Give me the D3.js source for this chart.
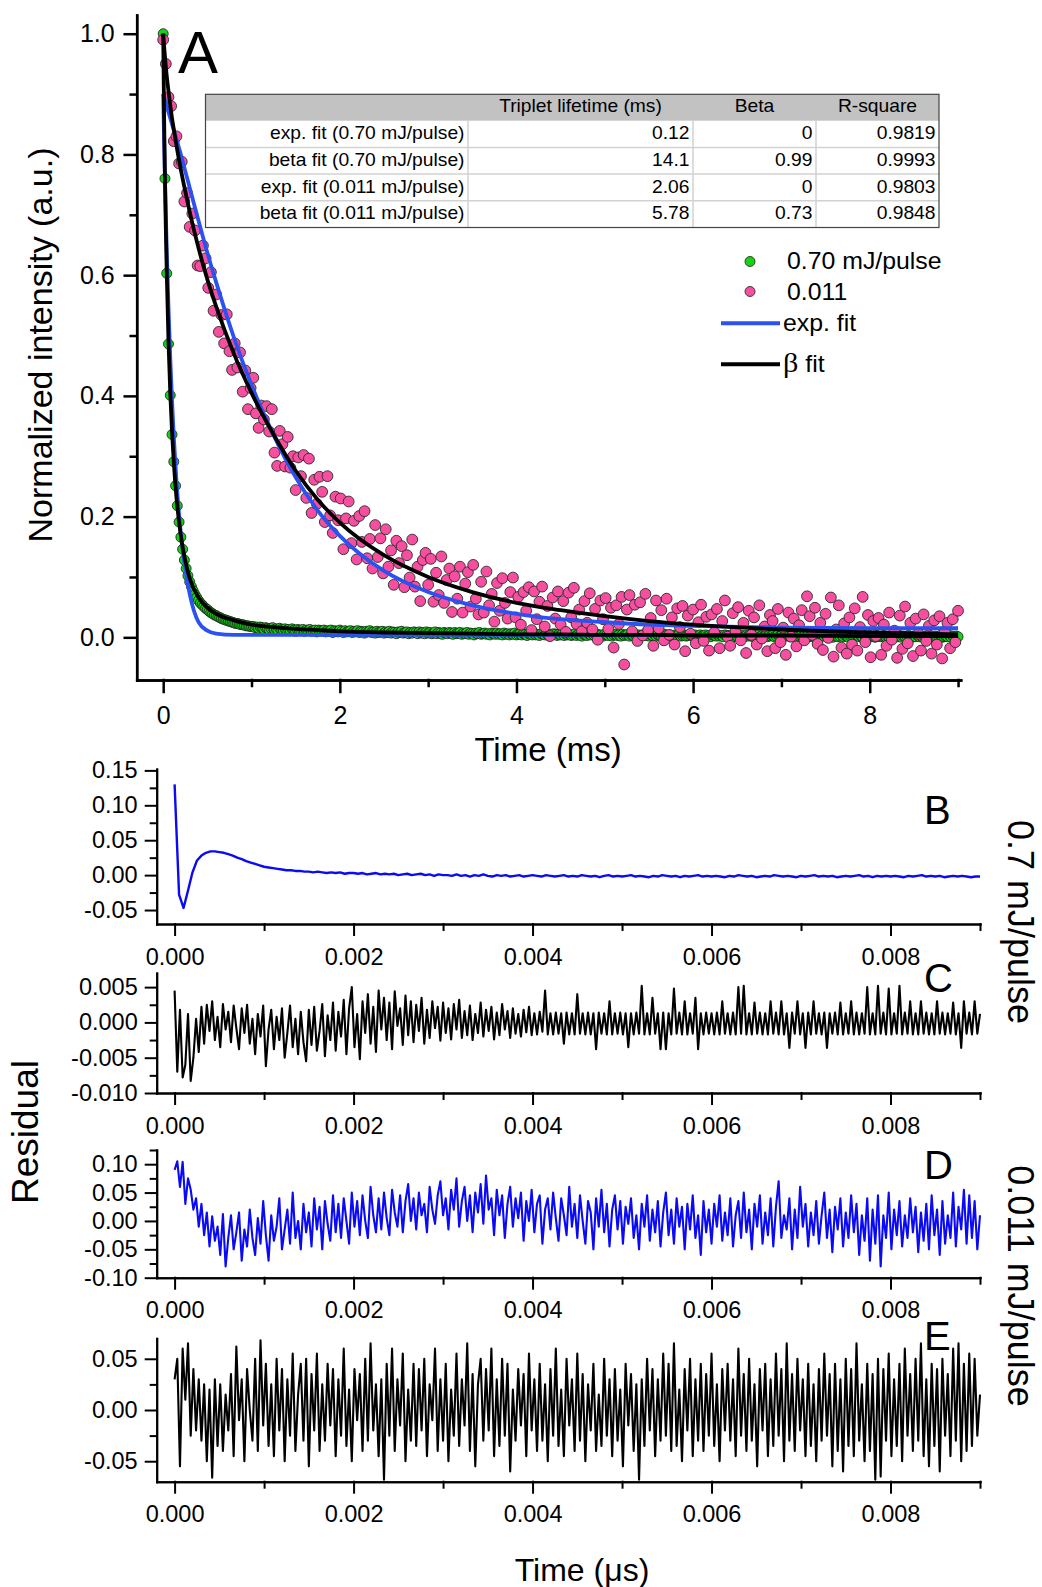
<!DOCTYPE html>
<html>
<head>
<meta charset="utf-8">
<script src="https://cdn.jsdelivr.net/npm/d3@7"></script>
<style>
body{margin:0;background:#fff}
</style>
</head>
<body>
<svg id="chart" width="1042" height="1587"></svg>
<script>
// ---------- panel A data ----------
const msTicks = [0, 2, 4, 6, 8];
const msMinor = [1, 3, 5, 7, 9];
const intTicks = [0, 0.2, 0.4, 0.6, 0.8, 1.0];
const intMinor = [0.1, 0.3, 0.5, 0.7, 0.9];

// 0.70 mJ/pulse, one point every 0.02 ms
const greenStep = 0.02;
const greenVals = [
1.000,0.760,0.603,0.486,0.401,0.336,0.291,0.251,0.218,0.191,
0.166,0.146,0.128,0.114,0.102,0.092,0.084,0.077,0.071,0.066,
0.061,0.057,0.054,0.051,0.048,0.046,0.043,0.041,0.039,0.037,
0.036,0.034,0.033,0.031,0.030,0.029,0.028,0.027,0.026,0.025,
0.024,0.023,0.023,0.022,0.021,0.021,0.020,0.019,0.019,0.018,
0.018,
0.018,0.016,0.017,0.015,0.017,0.016,0.014,0.016,0.015,0.013,0.015,0.016,0.013,0.014,0.012,0.015,0.013,0.012,0.014,
0.012,0.013,0.011,0.014,0.012,0.010,0.013,0.012,0.011,0.013,0.010,0.012,0.011,0.013,0.010,0.011,0.012,0.009,0.012,0.011,
0.010,0.012,0.009,0.011,0.010,0.012,0.008,0.011,0.010,0.009,0.012,0.010,0.008,0.011,0.009,0.010,0.011,0.008,0.010,0.009,
0.011,0.008,0.010,0.009,0.007,0.010,0.009,0.011,0.008,0.009,0.007,0.010,0.008,0.009,0.010,0.007,0.009,0.008,0.010,0.007,
0.009,0.008,0.006,0.009,0.008,0.010,0.007,0.008,0.009,0.006,0.008,0.007,0.009,0.008,0.006,0.009,0.007,0.008,0.006,0.009,
0.007,0.008,0.006,0.007,0.009,0.006,0.008,0.007,0.005,0.008,0.007,0.006,0.008,0.007,0.005,0.008,0.006,0.007,0.008,0.005,
0.007,0.006,0.008,0.005,0.007,0.006,0.004,0.007,0.006,0.008,0.005,0.006,0.007,0.005,0.006,0.004,0.007,0.006,0.005,0.007,
0.005,0.006,0.004,0.007,0.005,0.006,0.004,0.006,0.005,0.007,0.004,0.005,0.006,0.004,0.006,0.005,0.003,0.006,0.005,0.004,
0.006,0.004,0.005,0.003,0.006,0.005,0.004,0.006,0.003,0.005,0.004,0.006,0.005,0.003,0.005,0.004,0.006,0.003,0.005,0.004,
0.005,0.003,0.004,0.006,0.003,0.005,0.004,0.002,0.005,0.004,0.003,0.005,0.004,0.006,0.003,0.004,0.005,0.003,0.004,0.002,
0.005,0.004,0.003,0.005,0.002,0.004,0.005,0.003,0.004,0.002,0.005,0.003,0.004,0.005,0.002,0.004,0.003,0.005,0.003,0.004,
0.002,0.004,0.003,0.005,0.003,0.002,0.004,0.003,0.005,0.002,0.004,0.003,0.002,0.004,0.005,0.003,0.002,0.004,0.003,0.001,
0.004,0.003,0.005,0.002,0.003,0.004,0.002,0.003,0.005,0.003,0.002,0.004,0.001,0.003,0.004,0.002,0.003,0.004,0.002,0.003,
0.001,0.004,0.003,0.002,0.004,0.002,0.003,0.001,0.004,0.003,0.002,0.003,0.004,0.001,0.003,0.002,0.004,0.002,0.003,0.001,
0.003,0.002,0.004,0.002,0.001,0.003,0.002,0.004,0.001,0.003,0.002,0.003,0.001,0.004,0.002,0.003,0.001,0.002,0.004,0.002,
0.003,0.001,0.002,0.004,0.002,0.001,0.003,0.002,0.004,0.001,0.002,0.003,0.001,0.003,0.002,0.004,0.001,0.002,0.003,0.001,
0.003,0.002,0.001,0.003,0.002,0.004,0.001,0.002,0.003,0.000,0.002,0.003,0.001,0.002,0.004,0.001,0.003,0.002,0.000,0.002,
0.003,0.001,0.002,0.003,0.001,0.002,0.000,0.003,0.002,0.001,0.003,0.001,0.002,0.000,0.003,0.002,0.001,0.002,0.003,0.001,
0.002,0.000,0.002,0.003,0.001,0.002,0.001,0.003,0.000,0.002,0.001,0.002,0.003,0.001,0.000,0.002,0.001,0.003,0.001,0.002,
0.000,0.002,0.001,0.003,0.001,0.002,0.000,0.002,0.001,0.002,0.003,0.000,0.001,0.002,0.001,0.003,0.000,0.002,0.001,0.002,0.001
];

// 0.011 mJ/pulse, one point every 0.03 ms
const pinkStep = 0.03;
const pinkVals = [
0.990,0.950,0.895,0.880,0.822,0.830,0.785,0.788,0.722,0.736,
0.680,0.702,0.674,0.616,0.615,0.649,0.628,0.579,0.605,0.541,
0.568,0.506,0.534,0.487,0.535,0.474,0.443,0.487,0.447,0.472,
0.407,0.442,0.378,0.413,0.430,0.371,0.347,0.384,0.361,0.383,
0.341,0.378,0.306,0.284,0.342,0.320,0.283,0.332,0.281,0.300,
0.244,0.298,0.267,0.302,0.231,0.296,0.206,0.261,0.221,0.266,
0.241,0.191,0.267,0.202,0.173,0.233,0.194,0.230,0.146,0.197,
0.225,0.156,0.193,0.129,0.201,0.158,0.209,0.131,0.163,0.114,
0.186,0.133,0.164,0.106,0.179,0.117,0.144,0.087,0.160,0.123,
0.151,0.083,0.136,0.099,0.162,0.084,0.117,0.060,0.128,0.140,
0.087,0.130,0.059,0.107,0.070,0.134,0.057,0.095,0.114,0.042,
0.101,0.064,0.117,0.041,0.089,0.108,0.051,0.120,0.064,0.038,
0.092,0.041,0.109,0.053,0.072,0.026,0.090,0.044,0.098,0.057,
0.031,0.075,0.099,0.033,0.067,0.021,0.075,0.044,0.083,0.012,
0.076,0.030,0.059,0.084,0.018,0.052,0.002,0.066,0.031,0.076,
0.021,0.060,0.009,0.074,0.033,0.082,0.022,0.046,0.010,0.060,
0.024,0.073,0.013,0.047,-0.004,0.061,0.030,0.065,0.014,0.049,
-0.017,0.053,0.022,0.067,-0.045,0.046,0.070,0.010,0.054,-0.006,
0.058,0.003,0.072,0.012,0.032,-0.014,0.061,0.015,0.045,-0.005,
0.064,0.004,0.033,-0.012,0.048,0.017,0.052,-0.023,0.036,0.006,
0.046,-0.010,0.025,0.054,-0.006,0.034,-0.022,0.038,0.008,0.047,
-0.018,0.027,0.061,0.001,-0.014,0.040,0.010,0.050,-0.005,0.024,
-0.026,0.044,0.004,0.033,-0.012,0.053,-0.002,0.018,-0.023,0.037,
0.027,-0.018,0.047,-0.008,0.016,-0.029,0.041,0.001,0.031,-0.015,
0.020,0.045,-0.005,0.068,0.035,0.004,0.049,-0.011,0.024,-0.021,
0.039,-0.001,0.066,-0.032,0.013,0.053,-0.017,0.023,-0.027,0.033,
-0.012,0.048,-0.022,0.017,0.067,-0.008,0.037,-0.033,0.027,0.002,
0.032,-0.029,0.021,-0.014,0.041,-0.004,0.011,-0.034,0.036,-0.019,
0.051,-0.010,0.024,-0.031,0.031,0.006,-0.022,0.038,-0.006,0.019,
-0.027,0.028,-0.012,0.035,-0.035,0.010,0.024,-0.018,0.030,-0.008,0.044
];

// fit curves
const fitTimes = [0,0.01,0.02,0.03,0.04,0.06,0.08,0.1,0.12,0.15,0.2,0.25,0.3,0.4,0.5,0.6,0.8,1.0,1.25,1.5,1.75,2,2.5,3,3.5,4,4.5,5,5.5,6,7,8,9];
const expFit070 = [0.90,0.826,0.76,0.70,0.645,0.546,0.463,0.392,0.332,0.259,0.172,0.114,0.072,0.025,0.011,0.006,0.004,0.004,0.004,0.004,0.004,0.004,0.004,0.004,0.004,0.004,0.004,0.004,0.004,0.004,0.004,0.004,0.004];
const betaFit070 = [1.0,0.865,0.76,0.675,0.605,0.49,0.405,0.34,0.29,0.232,0.168,0.127,0.098,0.066,0.049,0.039,0.028,0.021,0.017,0.014,0.012,0.010,0.008,0.007,0.006,0.005,0.005,0.004,0.004,0.003,0.003,0.002,0.002];
const expFit011 = [0.90,0.895,0.89,0.885,0.88,0.87,0.86,0.85,0.84,0.825,0.80,0.772,0.745,0.69,0.637,0.588,0.497,0.418,0.335,0.265,0.210,0.168,0.110,0.075,0.053,0.039,0.030,0.025,0.021,0.019,0.016,0.015,0.015];
const betaFit011 = [1.0,0.98,0.962,0.945,0.93,0.905,0.882,0.86,0.842,0.815,0.775,0.739,0.705,0.645,0.593,0.548,0.47,0.405,0.336,0.276,0.228,0.190,0.136,0.100,0.075,0.057,0.045,0.035,0.027,0.021,0.013,0.008,0.005];

// table
const tableHead = ["", "Triplet lifetime (ms)", "Beta", "R-square"];
const fitNames = ["exp. fit (0.70 mJ/pulse)", "beta fit (0.70 mJ/pulse)", "exp. fit (0.011 mJ/pulse)", "beta fit (0.011 mJ/pulse)"];
const lifetimes = ["0.12", "14.1", "2.06", "5.78"];
const betas = ["0", "0.99", "0", "0.73"];
const rSquares = ["0.9819", "0.9993", "0.9803", "0.9848"];

const legendNames = ["0.70 mJ/pulse", "0.011", "exp. fit", "\u03b2 fit"];

// ---------- residual panels data ----------
const resTimeTicks = [0, 0.002, 0.004, 0.006, 0.008];
const resTimeMinor = [0.001, 0.003, 0.005, 0.007, 0.009];
const resStepB = 0.00005;
const resStep = 0.00003;

const resB = [
0.130,-0.028,-0.047,-0.022,0.004,0.021,0.028,0.032,0.034,0.034,0.033,
0.032,0.030,0.028,0.025,0.023,0.020,0.018,0.016,0.014,0.012,0.011,0.010,0.009,0.008,0.007,0.007,0.006,0.006,0.005,0.005,
0.004,0.005,0.004,0.003,0.004,0.003,0.004,0.002,0.003,0.003,
0.002,0.003,0.001,0.002,0.003,0.001,0.002,0.001,0.002,0.000,0.001,0.002,0.000,0.001,0.002,0.000,0.001,-0.001,0.001,0.000,
0.000,-0.001,0.001,-0.001,0.000,-0.002,0.000,-0.001,0.001,-0.001,-0.002,0.000,-0.001,0.000,-0.002,-0.001,0.000,-0.002,-0.001,0.000,
-0.001,-0.002,0.000,-0.001,-0.002,-0.001,0.000,-0.002,-0.001,-0.002,0.000,-0.001,-0.002,-0.001,-0.003,-0.001,0.000,-0.002,-0.001,-0.002,
-0.001,0.000,-0.002,-0.001,-0.002,-0.003,-0.001,-0.002,0.000,-0.001,-0.002,-0.001,-0.003,-0.001,-0.002,-0.001,0.000,-0.002,-0.001,-0.002,
-0.001,-0.002,-0.003,-0.001,-0.002,0.000,-0.001,-0.002,-0.001,-0.003,-0.002,-0.001,-0.002,0.000,-0.001,-0.002,-0.001,-0.002,-0.003,-0.001,
-0.002,-0.001,0.000,-0.002,-0.001,-0.002,-0.001,-0.003,-0.002,-0.001,-0.002,-0.001,0.000,-0.002,-0.001,-0.003,-0.001,-0.002,-0.001,-0.002,
-0.001,-0.002,-0.003,-0.001,-0.002,-0.001,0.000,-0.002,-0.001,-0.002,-0.001,-0.003,-0.002,-0.001,-0.002,-0.001,-0.002,-0.003,-0.002,-0.002
];

const resC = [
0.0045,-0.0070,0.0018,-0.0078,-0.0060,0.0012,-0.0083,-0.0050,0.0005,-0.0042,
0.0022,-0.0030,0.0025,-0.0012,0.0030,-0.0025,0.0008,-0.0035,0.0026,-0.0010,
0.0015,-0.0028,0.0024,-0.0008,-0.0038,0.0020,-0.0015,0.0025,-0.0030,0.0005,
-0.0045,0.0012,-0.0020,0.0024,-0.0062,-0.0010,0.0018,-0.0038,0.0008,-0.0025,
0.0020,-0.0050,-0.0015,0.0024,-0.0035,0.0005,-0.0045,0.0015,-0.0028,-0.0055,
0.0018,-0.0032,0.0022,-0.0040,-0.0012,0.0026,-0.0048,0.0010,-0.0025,0.0028,
-0.0040,0.0015,-0.0020,0.0032,-0.0045,0.0020,0.0050,-0.0035,0.0012,-0.0052,
0.0030,-0.0015,0.0040,-0.0030,0.0022,-0.0042,0.0045,-0.0010,0.0035,-0.0025,
0.0028,-0.0038,0.0044,-0.0005,0.0020,-0.0032,0.0038,-0.0018,0.0030,-0.0028,
0.0025,-0.0012,0.0035,-0.0030,0.0018,-0.0022,0.0030,-0.0008,0.0022,-0.0026,
0.0028,-0.0015,0.0020,-0.0024,0.0026,-0.0010,0.0032,-0.0022,0.0016,-0.0018,
0.0024,-0.0025,0.0012,-0.0015,0.0028,-0.0020,0.0018,-0.0012,0.0022,-0.0024,
0.0014,-0.0018,0.0026,-0.0010,0.0016,-0.0022,0.0020,-0.0016,0.0012,-0.0020,
0.0018,-0.0014,0.0022,-0.0018,0.0013,-0.0017,0.0015,-0.0013,0.0045,-0.0017,
0.0013,-0.0017,0.0014,-0.0016,0.0013,-0.0030,0.0014,-0.0017,0.0013,-0.0017,
0.0040,-0.0016,0.0013,-0.0017,0.0014,-0.0017,0.0013,-0.0038,0.0014,-0.0016,
0.0013,-0.0017,0.0030,-0.0017,0.0013,-0.0016,0.0014,-0.0017,0.0013,-0.0035,
0.0013,-0.0017,0.0014,-0.0016,0.0052,-0.0017,0.0013,-0.0017,0.0035,-0.0016,
0.0013,-0.0038,0.0014,-0.0038,0.0013,-0.0017,0.0048,-0.0016,0.0014,-0.0017,
0.0030,-0.0017,0.0013,-0.0016,0.0035,-0.0038,0.0013,-0.0017,0.0014,-0.0016,
0.0013,-0.0017,0.0014,-0.0017,0.0030,-0.0016,0.0013,-0.0017,0.0014,-0.0017,
0.0050,-0.0016,0.0052,-0.0017,0.0013,-0.0017,0.0028,-0.0016,0.0014,-0.0017,
0.0013,-0.0017,0.0030,-0.0016,0.0014,-0.0017,0.0030,-0.0017,0.0013,-0.0036,
0.0014,-0.0016,0.0030,-0.0017,0.0013,-0.0036,0.0014,-0.0017,0.0030,-0.0016,
0.0013,-0.0017,0.0014,-0.0036,0.0013,-0.0016,0.0014,-0.0017,0.0028,-0.0017,
0.0013,-0.0016,0.0030,-0.0017,0.0014,-0.0017,0.0013,-0.0016,0.0050,-0.0017,
0.0013,-0.0017,0.0052,-0.0016,0.0014,-0.0017,0.0048,-0.0017,0.0013,-0.0016,
0.0052,-0.0017,0.0014,-0.0016,0.0030,-0.0017,0.0013,-0.0017,0.0030,-0.0016,
0.0014,-0.0017,0.0013,-0.0017,0.0030,-0.0016,0.0014,-0.0017,0.0013,-0.0016,
0.0028,-0.0017,0.0013,-0.0036,0.0030,-0.0016,0.0014,-0.0017,0.0030,-0.0016,0.0012
];

const resD = [
0.090,0.105,0.060,0.104,0.030,0.075,0.055,0.020,0.040,-0.010,
0.030,-0.025,0.015,-0.045,0.008,-0.035,-0.010,-0.060,0.012,-0.080,
-0.030,0.010,-0.050,-0.020,0.015,-0.070,-0.015,-0.045,0.020,-0.030,
-0.060,0.005,-0.040,0.035,-0.025,-0.070,0.010,-0.035,-0.010,0.040,
-0.050,-0.015,0.020,-0.040,0.050,-0.030,0.000,-0.050,0.030,-0.020,
0.015,-0.045,0.040,-0.015,0.025,-0.050,0.035,-0.005,-0.035,0.045,
-0.020,0.030,-0.030,0.040,0.000,-0.040,0.050,-0.010,0.035,-0.025,
0.045,0.000,-0.030,0.060,0.010,-0.020,0.040,-0.015,0.050,0.005,
-0.025,0.055,0.015,-0.010,0.045,-0.020,0.035,0.065,0.000,0.040,
-0.015,0.050,0.010,0.030,-0.020,0.060,0.020,-0.005,0.045,0.070,
0.010,0.040,-0.015,0.055,0.020,0.075,-0.010,0.035,0.060,0.000,
0.045,-0.020,0.050,0.015,0.065,-0.005,0.080,0.020,0.040,-0.025,
0.055,0.010,0.045,-0.030,0.030,0.060,-0.010,0.040,0.005,0.050,
-0.035,0.035,0.000,0.055,-0.020,0.030,0.045,-0.040,0.020,0.040,
-0.015,0.050,0.005,-0.035,0.040,0.010,-0.025,0.060,-0.010,0.030,
-0.030,0.045,0.000,-0.040,0.035,0.015,-0.050,0.040,-0.010,0.055,
-0.020,0.030,-0.045,0.020,0.045,-0.015,0.035,-0.040,0.025,-0.005,
0.040,-0.030,0.010,-0.050,0.030,-0.010,0.045,-0.035,0.020,-0.020,
0.035,-0.045,0.015,0.050,-0.025,0.020,-0.040,0.040,-0.010,0.025,
-0.050,0.030,-0.015,0.045,-0.030,0.010,-0.060,0.035,-0.020,0.020,
-0.040,0.030,-0.010,0.045,-0.035,0.015,-0.025,0.040,-0.045,0.010,
0.035,-0.030,0.050,-0.020,0.020,-0.050,0.030,-0.010,0.045,-0.040,
0.015,-0.025,0.040,-0.045,0.025,0.070,-0.030,0.010,-0.015,0.040,
-0.050,0.020,-0.030,0.060,-0.010,0.030,-0.045,0.015,-0.025,0.035,
-0.040,0.010,0.050,-0.030,0.020,-0.055,0.025,-0.015,0.040,-0.045,
0.015,-0.030,0.045,-0.020,0.030,-0.060,0.010,-0.035,0.040,-0.070,
0.020,-0.040,0.045,-0.080,0.010,-0.030,0.050,-0.050,0.020,-0.025,
0.035,-0.045,0.010,-0.030,0.040,-0.020,0.025,-0.055,0.015,-0.035,
0.030,-0.050,0.045,-0.025,0.020,-0.060,0.035,-0.040,0.010,-0.030,
0.050,-0.045,0.025,-0.015,0.055,-0.040,0.045,-0.030,0.035,-0.050,0.010
];

const resE = [
0.030,0.050,-0.055,0.060,0.010,0.065,-0.025,0.040,-0.020,0.030,
-0.030,0.025,-0.050,0.020,-0.066,0.030,-0.035,0.025,-0.040,0.015,
-0.020,0.035,-0.045,0.062,-0.010,0.030,-0.050,0.040,0.000,-0.030,
0.050,-0.040,0.068,-0.015,0.045,-0.035,0.025,-0.045,0.050,-0.020,
0.040,-0.050,0.030,-0.025,0.055,-0.040,0.015,0.045,-0.030,0.050,
-0.055,0.035,-0.020,0.055,-0.040,0.025,-0.030,0.045,-0.015,0.040,
-0.045,0.030,-0.025,0.060,-0.035,0.020,-0.050,0.040,-0.010,0.035,
-0.040,0.050,-0.030,0.065,-0.020,0.025,-0.045,0.030,-0.068,0.045,
-0.025,0.060,-0.040,0.030,-0.015,0.055,-0.050,0.020,-0.030,0.045,
-0.035,0.040,-0.020,0.050,-0.045,0.025,-0.010,0.060,-0.040,0.030,
-0.030,0.045,-0.050,0.020,-0.025,0.055,-0.035,0.030,-0.015,0.065,
-0.040,0.035,-0.055,0.025,0.050,-0.030,0.040,-0.020,0.060,-0.045,
0.030,-0.035,0.050,-0.025,0.045,-0.060,0.020,-0.030,0.040,-0.015,
0.035,-0.045,0.055,-0.020,0.030,-0.040,0.045,-0.030,0.025,-0.050,
0.040,-0.025,0.060,-0.035,0.020,-0.045,0.050,-0.015,0.030,-0.040,
0.055,-0.030,0.035,-0.050,0.025,-0.020,0.045,-0.040,0.015,-0.035,
0.050,-0.025,0.030,-0.045,0.040,-0.030,0.020,-0.055,0.045,-0.015,
0.035,-0.040,0.025,-0.068,0.030,-0.035,0.050,-0.020,0.040,-0.045,
0.030,-0.030,0.055,-0.025,0.045,-0.040,0.065,-0.035,0.020,-0.050,
0.040,-0.020,0.050,-0.045,0.030,-0.030,0.045,-0.040,0.035,-0.025,
0.055,-0.035,0.025,-0.050,0.040,-0.020,0.045,-0.030,0.030,-0.045,
0.060,-0.025,0.035,-0.040,0.050,-0.030,0.025,-0.055,0.040,-0.020,
0.045,-0.045,0.030,-0.035,0.055,-0.025,0.040,-0.050,0.065,-0.030,
0.035,-0.040,0.050,-0.020,0.030,-0.045,0.045,-0.035,0.025,-0.050,
0.040,-0.030,0.055,-0.025,0.035,-0.055,0.045,-0.040,0.030,-0.060,
0.050,-0.035,0.040,-0.045,0.065,-0.030,0.025,-0.050,0.045,-0.040,
0.035,-0.068,0.050,-0.065,0.040,-0.030,0.055,-0.045,0.030,-0.035,
0.045,-0.050,0.060,-0.025,0.035,-0.040,0.050,-0.030,0.065,-0.045,
0.030,-0.055,0.045,-0.035,0.040,-0.060,0.050,-0.025,0.035,-0.045,
0.060,-0.030,0.065,-0.050,0.045,-0.040,0.055,-0.035,0.050,-0.025,0.015
];

// ---------- drawing ----------
const FONT = '"Liberation Sans", Arial, Helvetica, sans-serif';
const svg = d3.select("#chart");
svg.append("rect").attr("width", 1042).attr("height", 1587).attr("fill", "#fff");

const hyphen = f => d => f(d).replace("\u2212", "-");

const drawAxis = (orient, scale, major, minor, fmt, pos, o) => {
    const make = orient === "left" ? d3.axisLeft : d3.axisBottom;
    const tr = orient === "left" ? "translate(" + pos + ",0)" : "translate(0," + pos + ")";
    let gMin = svg.append("g").attr("transform", tr)
        .call(make(scale).tickValues(minor).tickSize(o.minorLen).tickSizeOuter(0).tickFormat(""));
    let gMaj = svg.append("g").attr("transform", tr)
        .call(make(scale).tickValues(major).tickSize(o.majorLen).tickSizeOuter(0).tickPadding(o.pad).tickFormat(fmt));
    for (let g of [gMin, gMaj]) {
        g.selectAll("path,line").attr("stroke", "#000").attr("stroke-width", o.lw).attr("stroke-linecap", "square");
        g.attr("font-size", o.fs).attr("font-family", FONT);
        g.selectAll("text").attr("fill", "#000");
    }
}

const label = (x, y, str, size, anchor, extra) => {
    return svg.append("text")
        .attr("transform", "translate(" + x + "," + y + ")" + (extra || ""))
        .attr("font-family", FONT)
        .attr("font-size", size)
        .attr("text-anchor", anchor || "start")
        .attr("fill", "#000")
        .text(str);
}

// panel A
const xA = d3.scaleLinear().domain([-0.3, 9.03]).range([136.7, 960.7]);
const yA = d3.scaleLinear().domain([-0.0707, 1.031]).range([680, 15]);

drawAxis("bottom", xA, msTicks, msMinor, d3.format("d"), 680, {majorLen: 12, minorLen: 6, pad: 14, lw: 2.5, fs: 25});
drawAxis("left", yA, intTicks, intMinor, d3.format(".1f"), 136.7, {majorLen: 12, minorLen: 6, pad: 10, lw: 2.5, fs: 25});

let greenData = greenVals.map((v, i) => ({t: i * greenStep, v: v}));
let pinkData = pinkVals.map((v, i) => ({t: i * pinkStep, v: v}));

svg.append("g").selectAll("circle").data(greenData).enter().append("circle")
    .attr("cx", d => xA(d.t)).attr("cy", d => yA(d.v)).attr("r", 5)
    .attr("fill", "#13d313").attr("stroke", "#1b1b1b").attr("stroke-width", 0.8);

svg.append("g").selectAll("circle").data(pinkData).enter().append("circle")
    .attr("cx", d => xA(d.t)).attr("cy", d => yA(d.v)).attr("r", 5.4)
    .attr("fill", "#f74ea0").attr("stroke", "#2a2a2a").attr("stroke-width", 0.9);

const fitLine = d3.line().x(d => xA(d.t)).y(d => yA(d.v)).curve(d3.curveMonotoneX);
const fitSeries = (vals) => vals.map((v, i) => ({t: fitTimes[i], v: v}));

for (let s of [expFit011, expFit070]) {
    svg.append("path").datum(fitSeries(s)).attr("d", fitLine)
        .attr("fill", "none").attr("stroke", "#2b52f0").attr("stroke-width", 3.8);
}
for (let s of [betaFit011, betaFit070]) {
    svg.append("path").datum(fitSeries(s)).attr("d", fitLine)
        .attr("fill", "none").attr("stroke", "#000").attr("stroke-width", 3.8);
}

label(178, 73, "A", 60);
label(548, 761, "Time (ms)", 33, "middle");
label(52, 345, "Normalized intensity (a.u.)", 34, "middle", " rotate(-90)");

// table
const colEdges = [205.5, 468, 693, 816, 939];
const tTop = 94.3, headH = 26.4, rowH = 26.7;
const tBottom = tTop + headH + rowH * fitNames.length;
svg.append("rect").attr("x", colEdges[0]).attr("y", tTop).attr("width", colEdges[4] - colEdges[0]).attr("height", headH)
    .attr("fill", "#c2c2c2");
for (let r = 1; r < fitNames.length; r++) {
    let yy = tTop + headH + r * rowH;
    svg.append("line").attr("x1", colEdges[0]).attr("x2", colEdges[4]).attr("y1", yy).attr("y2", yy)
        .attr("stroke", "#d2d2d2").attr("stroke-width", 1.5);
}
for (let c = 1; c < 4; c++) {
    svg.append("line").attr("x1", colEdges[c]).attr("x2", colEdges[c]).attr("y1", tTop + headH).attr("y2", tBottom)
        .attr("stroke", "#d2d2d2").attr("stroke-width", 1.5);
}
svg.append("rect").attr("x", colEdges[0]).attr("y", tTop).attr("width", colEdges[4] - colEdges[0]).attr("height", tBottom - tTop)
    .attr("fill", "none").attr("stroke", "#444").attr("stroke-width", 1.2);

for (let c = 1; c < 4; c++) {
    label((colEdges[c] + colEdges[c + 1]) / 2, tTop + 17.5, tableHead[c], 17.5, "middle", " scale(1.1,1)");
}
const tableCols = [fitNames, lifetimes, betas, rSquares];
for (let r = 0; r < fitNames.length; r++) {
    let base = tTop + headH + r * rowH + 18.5;
    for (let c = 0; c < 4; c++) {
        label(colEdges[c + 1] - 3.5, base, tableCols[c][r], 17.5, "end", " scale(1.1,1)");
    }
}

// legend
svg.append("circle").attr("cx", 750).attr("cy", 261.5).attr("r", 5)
    .attr("fill", "#13d313").attr("stroke", "#1b1b1b").attr("stroke-width", 0.8);
svg.append("circle").attr("cx", 750).attr("cy", 291.5).attr("r", 5)
    .attr("fill", "#f74ea0").attr("stroke", "#2a2a2a").attr("stroke-width", 0.9);
svg.append("line").attr("x1", 721).attr("x2", 780).attr("y1", 323.3).attr("y2", 323.3)
    .attr("stroke", "#2b52f0").attr("stroke-width", 4);
svg.append("line").attr("x1", 721).attr("x2", 780).attr("y1", 364.3).attr("y2", 364.3)
    .attr("stroke", "#000").attr("stroke-width", 4);
label(787, 268.5, legendNames[0], 23, "start", " scale(1.08,1)");
label(787, 299.5, legendNames[1], 23, "start", " scale(1.08,1)");
label(783, 331, legendNames[2], 23, "start", " scale(1.08,1)");
let bt = label(783, 371.5, "", 23, "start", " scale(1.08,1)");
bt.append("tspan").attr("font-family", '"Liberation Serif", serif').attr("font-size", 28).text(legendNames[3].charAt(0));
bt.append("tspan").text(legendNames[3].slice(1));

// residual panels
const xR = d3.scaleLinear().domain([-0.0002, 0.009]).range([156.7, 980]);
const panels = [
    {vals: resB, step: resStepB, dom: [-0.07, 0.152], rng: [924, 769], ticks: [-0.05, 0, 0.05, 0.1, 0.15], minor: [-0.025, 0.025, 0.075, 0.125], fmt: ".2f", color: "#0a0af5", lw: 2.4, tag: "B", tagY: 823.5},
    {vals: resC, step: resStep, dom: [-0.010, 0.007], rng: [1093, 973], ticks: [-0.01, -0.005, 0, 0.005], minor: [-0.0075, -0.0025, 0.0025], fmt: ".3f", color: "#000", lw: 2.1, tag: "C", tagY: 992},
    {vals: resD, step: resStep, dom: [-0.10, 0.125], rng: [1277.7, 1150], ticks: [-0.1, -0.05, 0, 0.05, 0.1], minor: [-0.075, -0.025, 0.025, 0.075, 0.125], fmt: ".2f", color: "#0a0af5", lw: 2.1, tag: "D", tagY: 1178.5},
    {vals: resE, step: resStep, dom: [-0.07, 0.07], rng: [1481.7, 1338.3], ticks: [-0.05, 0, 0.05], minor: [-0.025, 0.025], fmt: ".2f", color: "#000", lw: 2.1, tag: "E", tagY: 1350}
];

for (let p of panels) {
    let y = d3.scaleLinear().domain(p.dom).range(p.rng);
    drawAxis("bottom", xR, resTimeTicks, resTimeMinor, d3.format(".3f"), p.rng[0], {majorLen: 11, minorLen: 6, pad: 13, lw: 2, fs: 23.5});
    drawAxis("left", y, p.ticks, p.minor, hyphen(d3.format(p.fmt)), 156.7, {majorLen: 11, minorLen: 6, pad: 8, lw: 2, fs: 23.5});
    let line = d3.line().x((d, i) => xR(i * p.step)).y(d => y(d));
    svg.append("path").datum(p.vals).attr("d", line)
        .attr("fill", "none").attr("stroke", p.color).attr("stroke-width", p.lw).attr("stroke-linejoin", "round");
    label(924, p.tagY, p.tag, 40);
}

label(38, 1132, "Residual", 37, "middle", " rotate(-90)");
label(1008, 922, "0.7 mJ/pulse", 36, "middle", " rotate(90)");
label(1008, 1286, "0.011 mJ/pulse", 36, "middle", " rotate(90)");
label(582, 1581, "Time (\u03bcs)", 32, "middle");
</script>
</body>
</html>
